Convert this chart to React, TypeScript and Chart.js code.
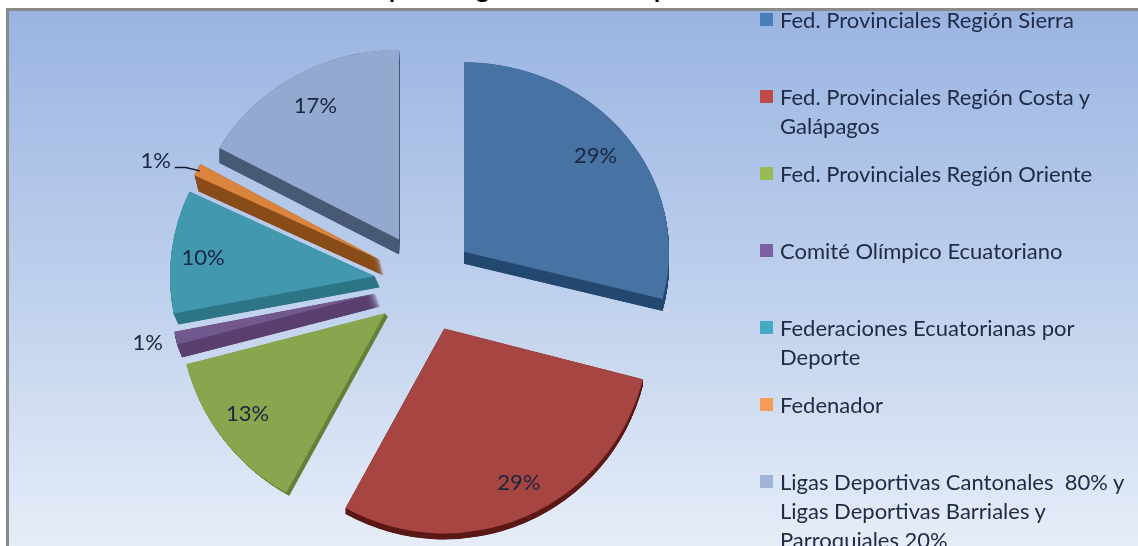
import React, { useEffect, useRef } from "react";
import { Chart, registerables } from "chart.js";

Chart.register(...registerables);

// Data
const categories = [
  "Fed. Provinciales Región Sierra",
  "Fed. Provinciales Región Costa y Galápagos",
  "Fed. Provinciales Región Oriente",
  "Comité Olímpico Ecuatoriano",
  "Federaciones Ecuatorianas por Deporte",
  "Fedenador",
  "Ligas Deportivas Cantonales  80% y Ligas Deportivas Barriales y Parroquiales 20%",
];
const shares = [29, 29, 13, 1, 10, 1, 17];
const legendLines = [
  ["Fed. Provinciales Región Sierra"],
  ["Fed. Provinciales Región Costa y", "Galápagos"],
  ["Fed. Provinciales Región Oriente"],
  ["Comité Olímpico Ecuatoriano"],
  ["Federaciones Ecuatorianas por", "Deporte"],
  ["Fedenador"],
  ["Ligas Deportivas Cantonales  80% y", "Ligas Deportivas Barriales y", "Parroquiales 20%"],
];
// Only the descenders of the original title survive the crop at the top of the picture.
const titleGlyphs = ["p", "g", "p"];

// Styles
const topColors = ["#4672a4", "#a64541", "#89a54e", "#71588f", "#4198af", "#db843d", "#93a9cf"];
const legendColors = ["#4a7ebb", "#be4b48", "#98b954", "#7d60a0", "#46aac5", "#f59d56", "#a0b4d8"];
const sideColors = ["#254a72", "#5c1a18", "#64813a", "#5b4170", "#2f7687", "#8a4e1c", "#4a5b75"];
const sideDx = [0, 0, 3, 5, 5, 4, 0];
const sideDy = [12, 6, 3, 13, 11, 16, 15];
const faceScaleY = [0.925, 1, 1, 1, 0.97, 0.97, 0.925];
const labelRadius = [0.83, 0.83, 0.83, 1.14, 0.83, 1.2, 0.83];
const labelNudgeX = [-3, 7, -3, 0, -3, -5, 3];
const labelNudgeY = [1, -2, -4, -1, 2, 9, 2];
const FONT = "Lato, 'Open Sans', sans-serif";
const OFFSET = 50;

const piePlugin = {
  id: "pie3d",
  beforeDraw(chart: any) {
    const { ctx, width, height } = chart;
    ctx.save();
    ctx.fillStyle = "#ffffff";
    ctx.fillRect(0, 0, width, height);
    ctx.fillStyle = "#000000";
    ctx.font = `bold 25px ${FONT}`;
    ctx.textBaseline = "alphabetic";
    ctx.fillText(titleGlyphs[0], 389, -2);
    ctx.fillText(titleGlyphs[1], 476, -2);
    ctx.fillText(titleGlyphs[2], 654, -2);
    const g = ctx.createLinearGradient(0, 10, 0, height);
    g.addColorStop(0, "#9ab4e2");
    g.addColorStop(0.5, "#bdcfec");
    g.addColorStop(1, "#e6edf8");
    ctx.fillStyle = "#8a8a8a";
    ctx.fillRect(6, 8, width, height);
    ctx.fillStyle = g;
    ctx.fillRect(9, 11, width, height);
    ctx.restore();
  },
  beforeDatasetDraw(chart: any) {
    const { ctx } = chart;
    const arcs = chart.getDatasetMeta(0).data;
    arcs.forEach((arc: any, i: number) => {
      const mid = (arc.startAngle + arc.endAngle) / 2;
      const shiftX = Math.cos(mid) * OFFSET;
      const ay = arc.y + Math.sin(mid) * OFFSET;
      const drawFace = (dx: number, dy: number) => {
        ctx.save();
        ctx.translate(shiftX + dx, ay + dy);
        ctx.scale(1, faceScaleY[i]);
        ctx.translate(0, -arc.y);
        arc.draw(ctx);
        ctx.restore();
      };
      const saved = arc.options;
      arc.options = { ...saved, backgroundColor: sideColors[i] };
      const steps = Math.max(Math.abs(sideDy[i]), 1) * 4;
      for (let k = steps; k >= 1; k--) {
        drawFace((sideDx[i] * k) / steps, (sideDy[i] * k) / steps);
      }
      arc.options = saved;
      drawFace(0, 0);
    });
    return false;
  },
  afterDatasetsDraw(chart: any) {
    const { ctx } = chart;
    const arcs = chart.getDatasetMeta(0).data;
    ctx.save();
    ctx.font = `22px ${FONT}`;
    ctx.fillStyle = "#1b2640";
    ctx.textAlign = "center";
    ctx.textBaseline = "middle";
    arcs.forEach((arc: any, i: number) => {
      const mid = (arc.startAngle + arc.endAngle) / 2;
      const ax = arc.x + Math.cos(mid) * OFFSET;
      const ay = arc.y + Math.sin(mid) * OFFSET;
      const R = arc.outerRadius;
      const x = ax + Math.cos(mid) * R * labelRadius[i] + labelNudgeX[i];
      const y = ay + Math.sin(mid) * R * labelRadius[i] * faceScaleY[i] + labelNudgeY[i];
      ctx.fillText(`${shares[i]}%`, x, y);
      if (labelRadius[i] > 1.18) {
        const ex = ax + Math.cos(mid) * R * 0.985;
        const ey = ay + Math.sin(mid) * R * 0.985 * faceScaleY[i];
        ctx.beginPath();
        ctx.moveTo(x + 19, y + 7);
        ctx.lineTo(x + 30, y + 7);
        ctx.lineTo(ex, ey);
        ctx.strokeStyle = "#10182c";
        ctx.lineWidth = 1.5;
        ctx.stroke();
      }
    });
    ctx.restore();
  },
};

export default function App() {
  const ref = useRef<HTMLCanvasElement | null>(null);
  useEffect(() => {
    document.body.style.margin = "0";
    document.body.style.overflow = "hidden";
    const chart = new Chart(ref.current as HTMLCanvasElement, {
      type: "pie",
      data: {
        labels: categories,
        datasets: [
          {
            data: shares,
            backgroundColor: topColors,
            borderWidth: 0,
            clip: false,
          } as any,
        ],
      },
      options: {
        animation: false,
        responsive: false,
        radius: 205,
        layout: { padding: { top: 19, right: 289, left: 0, bottom: 0 } },
        plugins: { legend: { display: false }, tooltip: { enabled: false }, title: { display: false } },
      } as any,
      plugins: [piePlugin as any],
    });
    return () => chart.destroy();
  }, []);
  return (
    <div style={{ position: "relative", width: 1138, height: 546, overflow: "hidden" }}>
      <canvas ref={ref} width={1138} height={546} style={{ display: "block" }} />
      <ul style={{ position: "absolute", left: 760, top: 5, margin: 0, padding: 0, listStyle: "none", fontFamily: FONT, fontSize: 22, lineHeight: "29px", color: "#222b45" }}>
        {legendLines.map((lines, i) => (
          <li key={i} style={{ position: "relative", height: 77, paddingLeft: 20, whiteSpace: "pre" }}>
            <span style={{ position: "absolute", left: 0, top: 8, width: 13, height: 13, background: legendColors[i] }} />
            {lines.map((t, j) => (
              <div key={j}>{t}</div>
            ))}
          </li>
        ))}
      </ul>
    </div>
  );
}
